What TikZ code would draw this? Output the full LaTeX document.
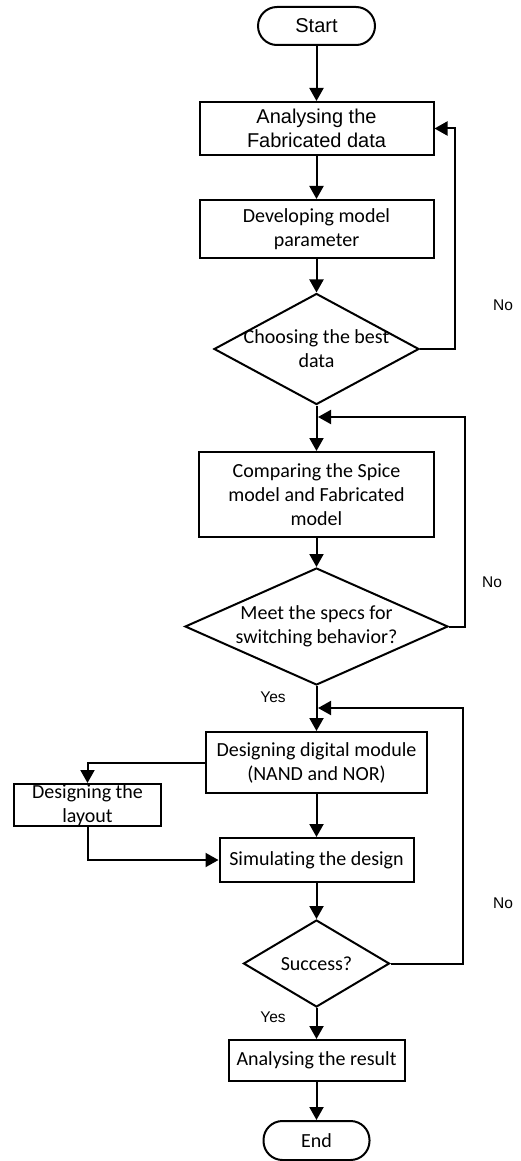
\documentclass[tikz,border=0pt]{standalone}
\usepackage{fontspec}
\setmainfont{Carlito}[Ligatures={NoCommon}]
\newfontfamily\arialfont{Liberation Sans}
\usetikzlibrary{shapes.geometric, arrows.meta}

\begin{document}
\begin{tikzpicture}[x=1pt, y=-1pt, line width=2pt,
  box/.style={draw, rectangle, align=center, inner sep=2pt, font=\fontsize{20}{24}\selectfont},
  term/.style={box, rounded corners=19pt},
  decision/.style={draw, diamond, inner sep=0pt},
  txt/.style={align=center, font=\fontsize{20}{24}\selectfont},
  flow/.style={-{Triangle[length=13pt, width=14pt]}},
  note/.style={font=\arialfont\fontsize{15.5}{18}\selectfont}]
  \useasboundingbox (0,0) rectangle (520,1161);

  \node[term, font=\arialfont\fontsize{20}{24}\selectfont, minimum width=117pt, minimum height=38pt] (start) at (316.5,26) {Start};
  \node[box, font=\arialfont\fontsize{20}{24.5}\selectfont, minimum width=234pt, minimum height=53pt] (analyse) at (316.5,128.5) {Analysing the\\Fabricated data};
  \node[box, minimum width=234pt, minimum height=58pt] (develop) at (316.5,229) {Developing model\\parameter};
  \node[decision, minimum width=205pt, minimum height=111pt,
    label={[txt]center:Choosing the best\\data}] (choose) at (316.5,349) {};
  \node[box, minimum width=235pt, minimum height=85pt] (compare) at (316.5,494.5) {Comparing the Spice\\model and Fabricated\\model};
  \node[decision, minimum width=263pt, minimum height=117pt,
    label={[txt]center:Meet the specs for\\switching behavior?}] (meet) at (316.5,626.5) {};
  \node[box, minimum width=221pt, minimum height=61pt] (module) at (316.5,762.5) {Designing digital module\\(NAND and NOR)};
  \node[box, inner ysep=0pt, minimum width=147pt, minimum height=42pt] (layout) at (87.5,805) {Designing the\\layout};
  \node[box, minimum width=194pt, minimum height=44pt] (simulate) at (316.5,860) {Simulating the design};
  \node[decision, minimum width=146pt, minimum height=87pt,
    label={[txt]center:Success?}] (success) at (316.5,963.5) {};
  \node[box, minimum width=176pt, minimum height=41pt] (result) at (316.5,1060.5) {Analysing the result};
  \node[term, minimum width=106pt, minimum height=39pt] (finish) at (316.5,1140.5) {End};

  \coordinate (back1) at (455,128.5);
  \coordinate (back2) at (465,417);
  \coordinate (join2) at (318,417);
  \coordinate (back3) at (463,708);
  \coordinate (join3) at (318,708);

  \draw[flow] (start) -- (analyse);
  \draw[flow] (analyse) -- (develop);
  \draw[flow] (develop) -- (choose);
  \draw[flow] (choose.east) -| (back1) -- (analyse.east);
  \draw[flow] (choose) -- (compare);
  \draw[flow] (compare) -- (meet);
  \draw[flow] (meet.east) -| (back2) -- (join2);
  \draw[flow] (meet) -- (module);
  \draw[flow] (module.west) -| (layout.north);
  \draw[flow] (layout.south) |- (simulate.west);
  \draw[flow] (module) -- (simulate);
  \draw[flow] (simulate) -- (success);
  \draw[flow] (success.east) -| (back3) -- (join3);
  \draw[flow] (success) -- (result);
  \draw[flow] (result) -- (finish);

  \node[note] (no1) at (503,305) {No};
  \node[note] (no2) at (492,582) {No};
  \node[note] (no3) at (503,903) {No};
  \node[note] (yes1) at (273,697) {Yes};
  \node[note] (yes2) at (273,1017) {Yes};
\end{tikzpicture}
\end{document}
